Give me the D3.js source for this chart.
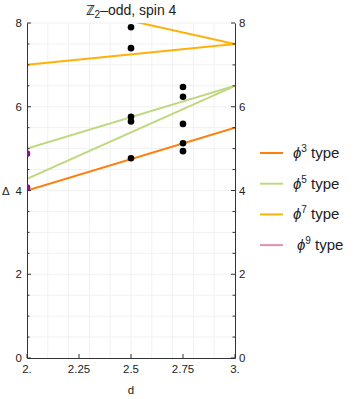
<!DOCTYPE html>
<html>
<head>
<meta charset="utf-8">
<script src="https://cdn.jsdelivr.net/npm/d3@7"></script>
<style>
  body { margin: 0; background: #fff; }
  text { font-family: "Liberation Sans", Arial, sans-serif; fill: #222; }
</style>
</head>
<body>
<svg id="chart" width="355" height="399"></svg>
<script>
// data
var dTicks = [2, 2.25, 2.5, 2.75, 3];
var dTickLabels = ["2.", "2.25", "2.5", "2.75", "3."];
var deltaTicks = [0, 2, 4, 6, 8];

var phi3Lines = [[[2, 4.0], [3, 5.5]]];
var phi5Lines = [[[2, 5.0], [3, 6.5]], [[2, 4.28], [3, 6.5]]];
var phi7Lines = [[[2, 7.0], [3, 7.5]], [[2.5, 8.05], [3, 7.5]]];
var phi9Lines = [];

var blackD = [2.5, 2.5, 2.5, 2.5, 2.5, 2.75, 2.75, 2.75, 2.75, 2.75];
var blackDelta = [7.9, 7.4, 5.76, 5.65, 4.77, 6.47, 6.24, 5.59, 5.13, 4.94];
var purpleD = [2, 2];
var purpleDelta = [4.88, 4.07];

var legendNames = ["3", "5", "7", "9"];
var legendColors = ["#ff7f0e", "#bfd882", "#ffb10a", "#e68fb3"];

var margin = {top: 23, right: 120, bottom: 41, left: 27},
    width = 355 - margin.left - margin.right,
    height = 399 - margin.top - margin.bottom;

var svg = d3.select("#chart");

var x = d3.scaleLinear().domain([2, 3]).range([0, width]);
var y = d3.scaleLinear().domain([0, 8]).range([height, 0]);

var g = svg.append("g")
  .attr("transform", "translate(" + margin.left + "," + margin.top + ")");

// faint grid
g.append("g").selectAll("line")
  .data(d3.range(2.1, 3, 0.1))
  .enter().append("line")
  .attr("x1", function(d) { return x(d); })
  .attr("x2", function(d) { return x(d); })
  .attr("y1", 0).attr("y2", height)
  .style("stroke", "#f1f1f1");
g.append("g").selectAll("line")
  .data(d3.range(0.5, 8.01, 0.5))
  .enter().append("line")
  .attr("x1", 0).attr("x2", width)
  .attr("y1", function(d) { return y(d); })
  .attr("y2", function(d) { return y(d); })
  .style("stroke", "#f1f1f1");

// clip the lines to the frame
svg.append("defs").append("clipPath").attr("id", "clip")
  .append("rect").attr("width", width).attr("height", height);

var line = d3.line()
  .x(function(d) { return x(d[0]); })
  .y(function(d) { return y(d[1]); });

var lines = g.append("g").attr("clip-path", "url(#clip)");
[phi3Lines, phi5Lines, phi7Lines, phi9Lines].forEach(function(set, i) {
  lines.selectAll(null)
    .data(set)
    .enter().append("path")
    .attr("d", line)
    .style("fill", "none")
    .style("stroke", legendColors[i])
    .style("stroke-width", 2);
});

// axes
var axisColor = "#333";
var yMinor = d3.range(0, 8.01, 0.5);

var left = g.append("g")
  .call(d3.axisRight(y).tickValues(deltaTicks).tickSize(0).tickFormat(""));
var right = g.append("g").attr("transform", "translate(" + width + ",0)")
  .call(d3.axisLeft(y).tickValues(deltaTicks).tickSize(0).tickFormat(""));
var bottom = g.append("g").attr("transform", "translate(0," + height + ")")
  .call(d3.axisTop(x).tickValues([]).tickSize(0));
[left, right, bottom].forEach(function(a) {
  a.select(".domain").style("stroke", axisColor);
});

// inward ticks
g.append("g").selectAll("line")
  .data(yMinor)
  .enter().append("line")
  .attr("x1", 0)
  .attr("x2", function(d) { return d % 2 === 0 ? 4 : 2.5; })
  .attr("y1", function(d) { return y(d); })
  .attr("y2", function(d) { return y(d); })
  .style("stroke", axisColor);
g.append("g").selectAll("line")
  .data(yMinor)
  .enter().append("line")
  .attr("x1", width)
  .attr("x2", function(d) { return width - (d % 2 === 0 ? 4 : 2.5); })
  .attr("y1", function(d) { return y(d); })
  .attr("y2", function(d) { return y(d); })
  .style("stroke", axisColor);
g.append("g").selectAll("line")
  .data(dTicks)
  .enter().append("line")
  .attr("x1", function(d) { return x(d); })
  .attr("x2", function(d) { return x(d); })
  .attr("y1", height).attr("y2", height - 4)
  .style("stroke", axisColor);

// tick labels
g.append("g").selectAll("text")
  .data(deltaTicks)
  .enter().append("text")
  .attr("x", -5)
  .attr("y", function(d) { return y(d); })
  .attr("dy", "0.35em")
  .attr("text-anchor", "end")
  .style("font-size", "11.5px")
  .text(function(d) { return d; });
g.append("g").selectAll("text")
  .data(deltaTicks)
  .enter().append("text")
  .attr("x", width + 4)
  .attr("y", function(d) { return y(d); })
  .attr("dy", "0.35em")
  .attr("text-anchor", "start")
  .style("font-size", "11.5px")
  .text(function(d) { return d; });
g.append("g").selectAll("text")
  .data(dTicks)
  .enter().append("text")
  .attr("x", function(d) { return x(d); })
  .attr("y", height + 15)
  .attr("text-anchor", "middle")
  .style("font-size", "11.5px")
  .text(function(d, i) { return dTickLabels[i]; });

// axis titles
g.append("text")
  .attr("x", width / 2).attr("y", height + 36)
  .attr("text-anchor", "middle")
  .style("font-size", "11.5px")
  .text("d");
g.append("text")
  .attr("x", -25).attr("y", y(4))
  .attr("dy", "0.35em")
  .style("font-size", "11.5px")
  .text("Δ");

// title
var title = svg.append("text")
  .attr("x", margin.left + width / 2).attr("y", 15)
  .attr("text-anchor", "middle")
  .style("font-size", "14px");
title.append("tspan").text("ℤ");
title.append("tspan").attr("dy", 3).style("font-size", "10px").text("2");
title.append("tspan").attr("dy", -3).text("–odd, spin 4");

// points
g.append("g").selectAll("circle")
  .data(blackD)
  .enter().append("circle")
  .attr("cx", function(d) { return x(d); })
  .attr("cy", function(d, i) { return y(blackDelta[i]); })
  .attr("r", 3.3)
  .style("fill", "#000");
g.append("g").attr("clip-path", "url(#clip)").selectAll("circle")
  .data(purpleD)
  .enter().append("circle")
  .attr("cx", function(d) { return x(d); })
  .attr("cy", function(d, i) { return y(purpleDelta[i]); })
  .attr("r", 3.3)
  .style("fill", "#8a0f8a");

// legend
var legend = svg.append("g").attr("transform", "translate(260,153)");
var rows = legend.selectAll("g")
  .data(legendNames)
  .enter().append("g")
  .attr("transform", function(d, i) { return "translate(0," + (i * 30.7) + ")"; });
rows.append("line")
  .attr("x1", 0).attr("x2", 23)
  .style("stroke", function(d, i) { return legendColors[i]; })
  .style("stroke-width", 2);
var lt = rows.append("text")
  .attr("x", function(d, i) { return i === 3 ? 37 : 33; })
  .attr("y", 5)
  .style("font-size", "15px");
lt.append("tspan").style("font-style", "italic").text("ϕ");
lt.append("tspan").attr("dy", -6).style("font-size", "10px").text(function(d) { return d; });
lt.append("tspan").attr("dy", 6).text(" type");
</script>
</body>
</html>
